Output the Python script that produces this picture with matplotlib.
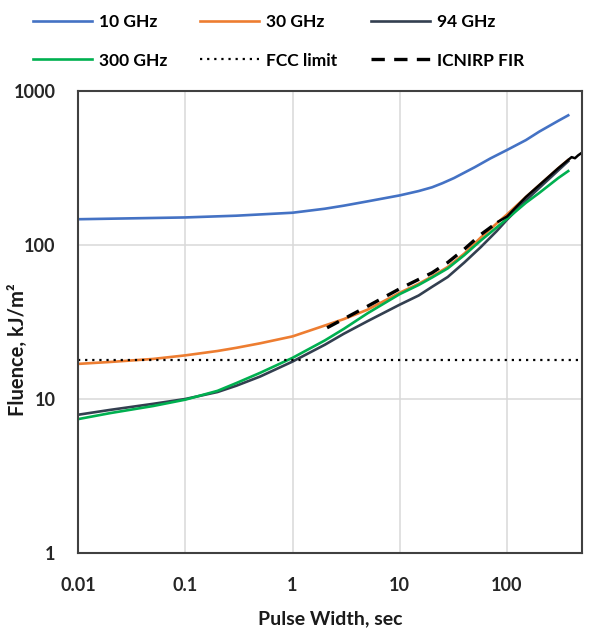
import matplotlib
matplotlib.use("Agg")
import matplotlib.pyplot as plt
from matplotlib.ticker import FixedLocator, NullLocator

plt.rcParams['font.family'] = ['Lato', 'DejaVu Sans']
plt.rcParams['font.weight'] = 'bold'

# ---- data ----
t10 = [0.01, 0.1, 0.3, 1, 2, 3, 5, 10, 15, 20, 25, 32, 50, 70, 100, 150, 200, 300, 372]
f10 = [147, 151, 155, 162, 172, 180, 192, 210, 224, 237, 252, 272, 320, 365, 414, 480, 545, 640, 695]

t30 = [0.01, 0.02, 0.05, 0.1, 0.2, 0.3, 0.5, 1, 2, 3, 5, 10, 15, 20, 28, 40, 57, 80, 100, 150, 200, 300, 372]
f30 = [16.9, 17.4, 18.2, 19.2, 20.5, 21.5, 23, 25.5, 30, 33, 38, 49, 56, 62.5, 72, 88, 112, 138, 158, 205, 245, 315, 357]

t94 = [0.01, 0.02, 0.05, 0.1, 0.2, 0.3, 0.5, 1, 2, 3, 5, 10, 15, 20, 28, 40, 57, 80, 100, 150, 200, 300, 372]
f94 = [7.9, 8.5, 9.3, 10.0, 11.1, 12.2, 14.0, 17.5, 22.5, 26.5, 32, 41, 47, 53.5, 62, 77, 97, 123, 146, 195, 235, 305, 350]

t300 = [0.01, 0.02, 0.05, 0.1, 0.2, 0.3, 0.5, 1, 2, 3, 5, 10, 15, 20, 28, 40, 57, 80, 100, 150, 200, 300, 372]
f300 = [7.4, 8.1, 9.0, 9.9, 11.3, 12.7, 14.8, 18.5, 24, 28.5, 36, 48, 55, 61.5, 70.5, 86, 107, 130, 148, 188, 218, 272, 302]

fcc_t = [0.01, 500]
fcc_f = [18, 18]

icnirp_t = [2.1, 5, 10, 20, 28, 40, 57, 68, 83, 100, 150, 200, 300, 372, 400, 430, 460, 500]
icnirp_f = [29, 40, 52, 66, 77, 94, 117, 128, 142, 153, 205, 245, 315, 357, 372, 366, 382, 398]

x_ticks = [0.01, 0.1, 1, 10, 100]
x_labels = ['0.01', '0.1', '1', '10', '100']
y_ticks = [1, 10, 100, 1000]
y_labels = ['1', '10', '100', '1000']

# ---- figure ----
fig = plt.figure(figsize=(5.9, 6.28), dpi=100)
ax = fig.add_axes([78/590, 1-553/628, (582-78)/590, (553-91)/628])

lw = 1.9
ax.plot(t10, f10, color='#4472C4', lw=lw, label='10 GHz')
ax.plot(t30, f30, color='#ED7D31', lw=lw, label='30 GHz')
ax.plot(t94, f94, color='#333F50', lw=lw, label='94 GHz')
ax.plot(t300, f300, color='#00B050', lw=lw, label='300 GHz')
ax.plot(fcc_t, fcc_f, color='black', lw=1.6, ls=(0, (1, 2.2)), label='FCC limit')
k = icnirp_t.index(83) + 1
ax.plot(icnirp_t[:k], icnirp_f[:k], color='black', lw=2.4, ls=(0, (4, 2.8)),
        label='ICNIRP FIR')
ax.plot(icnirp_t[k-1:], icnirp_f[k-1:], color='black', lw=1.8)

ax.set_xscale('log')
ax.set_yscale('log')
ax.set_xlim(0.01, 500)
ax.set_ylim(1, 1000)
ax.xaxis.set_major_locator(FixedLocator(x_ticks))
ax.set_xticklabels(x_labels)
ax.yaxis.set_major_locator(FixedLocator(y_ticks))
ax.set_yticklabels(y_labels)
ax.xaxis.set_minor_locator(NullLocator())
ax.yaxis.set_minor_locator(NullLocator())
ax.tick_params(length=0, labelsize=13, colors='#262626')
ax.tick_params(axis='x', pad=17)
ax.tick_params(axis='y', pad=16)
for lab in ax.get_xticklabels() + ax.get_yticklabels():
    lab.set_fontweight('bold')
ax.grid(True, color='#D9D9D9', lw=1.1)
ax.set_axisbelow(True)
for s in ax.spines.values():
    s.set_color('#404040')
    s.set_linewidth(1.5)

ax.set_xlabel('Pulse Width, sec', fontsize=14, fontweight='bold', color='#1a1a1a', labelpad=12)
ax.set_ylabel('Fluence, kJ/m²', fontsize=14.5, fontweight='bold', color='#1a1a1a')
ax.yaxis.set_label_coords((28 - 78) / 504, (553 - 350) / 462)

handles, labels = ax.get_legend_handles_labels()
order = [0, 3, 1, 4, 2, 5]
leg = fig.legend([handles[i] for i in order], [labels[i] for i in order],
                 loc='upper left', ncol=3, frameon=False,
                 bbox_to_anchor=(33/590, 1-14/628), borderaxespad=0, borderpad=0,
                 handlelength=3.4, handletextpad=0.4, columnspacing=1.9,
                 labelspacing=1.3, prop={'size': 12.5, 'weight': 'bold'})

fig.savefig('out.png', dpi=100)
